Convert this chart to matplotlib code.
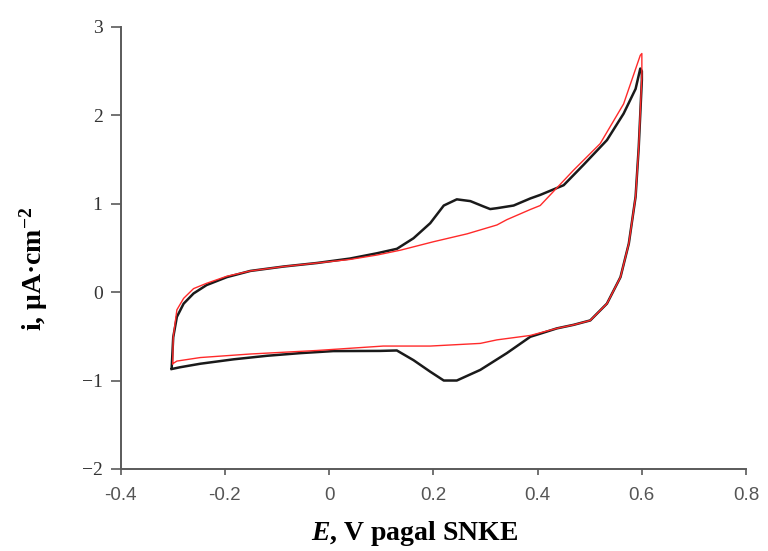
import matplotlib
matplotlib.use("Agg")
import matplotlib.pyplot as plt
from matplotlib.ticker import FixedLocator, FixedFormatter

plt.rcParams['mathtext.fontset'] = 'custom'
plt.rcParams['mathtext.rm'] = 'Liberation Serif:bold'
plt.rcParams['mathtext.bf'] = 'Liberation Serif:bold'
plt.rcParams['mathtext.it'] = 'Liberation Serif:italic:bold'

# black curve (with peaks), anodic then cathodic scan
black_E = [-0.302, -0.299, -0.292, -0.279, -0.260, -0.235, -0.196, -0.151, -0.087, -0.023,
           0.040, 0.092, 0.130, 0.162, 0.194, 0.220, 0.245, 0.271, 0.296, 0.309, 0.322,
           0.354, 0.386, 0.405, 0.450, 0.488, 0.533, 0.565, 0.588, 0.597, 0.600,
           0.600, 0.594, 0.588, 0.575, 0.559, 0.533, 0.501, 0.469, 0.437, 0.405,
           0.386, 0.341, 0.290, 0.245, 0.220, 0.194, 0.162, 0.130, 0.098, 0.008,
           -0.055, -0.119, -0.183, -0.247, -0.286, -0.302]
black_i = [-0.86, -0.51, -0.28, -0.13, -0.015, 0.08, 0.17, 0.24, 0.29, 0.33,
           0.38, 0.44, 0.49, 0.61, 0.78, 0.98, 1.05, 1.03, 0.97, 0.94, 0.95,
           0.98, 1.06, 1.10, 1.21, 1.44, 1.72, 2.02, 2.30, 2.53, 2.50,
           2.40, 1.64, 1.08, 0.55, 0.17, -0.13, -0.32, -0.37, -0.41, -0.47,
           -0.505, -0.69, -0.88, -1.00, -1.00, -0.90, -0.77, -0.66, -0.665, -0.667,
           -0.69, -0.72, -0.76, -0.81, -0.85, -0.87]

# red curve (background), anodic then cathodic scan
red_E = [-0.300, -0.299, -0.292, -0.279, -0.260, -0.235, -0.196, -0.151, -0.087, -0.023,
         0.040, 0.092, 0.137, 0.200, 0.265, 0.322, 0.341, 0.386, 0.405, 0.469, 0.520,
         0.565, 0.597, 0.600,
         0.600, 0.594, 0.588, 0.575, 0.559, 0.533, 0.501, 0.469, 0.437, 0.405,
         0.386, 0.322, 0.290, 0.194, 0.104, -0.023, -0.151, -0.247, -0.292, -0.300]
red_i = [-0.81, -0.51, -0.20, -0.07, 0.04, 0.10, 0.18, 0.24, 0.29, 0.33,
         0.37, 0.42, 0.475, 0.57, 0.66, 0.76, 0.82, 0.935, 0.98, 1.38, 1.68,
         2.13, 2.68, 2.70,
         2.45, 1.64, 1.08, 0.55, 0.17, -0.13, -0.32, -0.37, -0.41, -0.46,
         -0.49, -0.54, -0.58, -0.61, -0.61, -0.66, -0.70, -0.74, -0.78, -0.81]

x_ticks = [-0.4, -0.2, 0, 0.2, 0.4, 0.6, 0.8]
x_tick_labels = ['-0.4', '-0.2', '0', '0.2', '0.4', '0.6', '0.8']
y_ticks = [-2, -1, 0, 1, 2, 3]
y_tick_labels = ['\u22122', '\u22121', '0', '1', '2', '3']

fig = plt.figure(figsize=(7.68, 5.51), dpi=100)
ax = fig.add_axes([0.157, 0.149, 0.8145, 0.802])

ax.plot(black_E, black_i, color='#1a1a1a', lw=1.8)
ax.plot(red_E, red_i, color='#ff2a2a', lw=1.0)

ax.set_xlim(-0.4, 0.8)
ax.set_ylim(-2, 3)
ax.xaxis.set_major_locator(FixedLocator(x_ticks))
ax.xaxis.set_major_formatter(FixedFormatter(x_tick_labels))
ax.yaxis.set_major_locator(FixedLocator(y_ticks))
ax.yaxis.set_major_formatter(FixedFormatter(y_tick_labels))

for side in ['top', 'right']:
    ax.spines[side].set_visible(False)
for side in ['left', 'bottom']:
    ax.spines[side].set_color('#5a5a5a')
    ax.spines[side].set_linewidth(1.4)

ax.tick_params(axis='x', direction='out', length=4, width=1.2, color='#5a5a5a',
               pad=9, labelsize=13.5, labelcolor='#555555')
ax.tick_params(axis='y', direction='out', length=7, width=1.2, color='#5a5a5a',
               pad=6, labelsize=14, labelcolor='#333333')
for lab in ax.get_xticklabels():
    lab.set_family('Liberation Sans')
for lab in ax.get_yticklabels():
    lab.set_family('Liberation Serif')

fig.text(0.044, 0.513, r'i, μA·cm$^{-2}$', rotation=90, ha='center', va='center',
         fontsize=20, fontweight='bold', family='Liberation Serif')
fig.text(0.54, 0.02, r'$\mathit{E}$, V pagal SNKE', ha='center', va='baseline',
         fontsize=20, fontweight='bold', family='Liberation Serif')

fig.savefig('out.png', dpi=100)
